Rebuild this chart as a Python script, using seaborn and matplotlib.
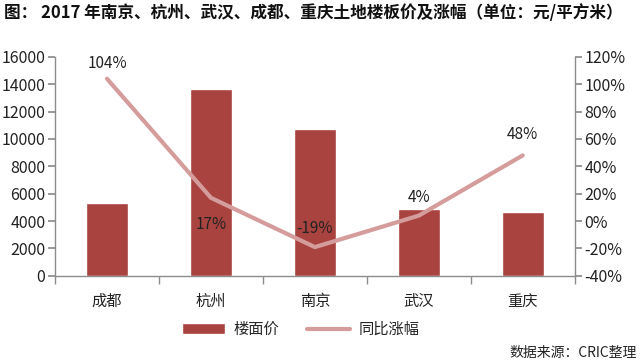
import matplotlib
matplotlib.use("Agg")
import matplotlib.pyplot as plt
import seaborn as sns
import pandas as pd
from matplotlib.ticker import FuncFormatter, FixedLocator

# data
cities = ["成都", "杭州", "南京", "武汉", "重庆"]
floor_price = [5300, 13650, 10750, 4900, 4650]
yoy_growth = [104, 17, -19, 4, 48]
growth_labels = ["104%", "17%", "-19%", "4%", "48%"]
label_offsets = [(0, 5), (0, -25), (0, 7), (0, 7), (0, 9)]

bar_color = "#A8433F"
line_color = "#D59C9C"
axis_color = "#8C8C8C"

sns.set_theme(style="white")
plt.rcParams["font.family"] = ["Noto Sans CJK SC", "DejaVu Sans"]

df = pd.DataFrame({"city": cities, "price": floor_price, "growth": yoy_growth})

fig = plt.figure(figsize=(6.4, 3.62), dpi=100)
ax = fig.add_axes([0.086, 0.238, 0.812, 0.605])

sns.barplot(data=df, x="city", y="price", color=bar_color, width=0.4,
            saturation=1, ax=ax, label="楼面价")
ax.set_ylim(0, 16000)
ax.set_yticks(range(0, 16001, 2000))
ax.set_xlabel("")
ax.set_ylabel("")

ax2 = ax.twinx()
sns.lineplot(data=df, x="city", y="growth", color=line_color, linewidth=3,
             sort=False, ax=ax2, label="同比涨幅")
ax2.set_ylim(-40, 120)
ax2.set_yticks(range(-40, 121, 20))
ax2.yaxis.set_major_formatter(FuncFormatter(lambda v, p: f"{int(v)}%"))
ax2.set_ylabel("")

for i, (val, lab) in enumerate(zip(yoy_growth, growth_labels)):
    ax2.annotate(lab, (i, val), xytext=label_offsets[i], textcoords="offset points",
                 ha="center", va="bottom", fontsize=11, color="#222222")

for a in (ax, ax2):
    a.spines["top"].set_visible(False)
    for s in ("left", "right", "bottom"):
        a.spines[s].set_color(axis_color)
        a.spines[s].set_linewidth(1)
ax.spines["right"].set_visible(False)
ax2.spines["left"].set_visible(False)
ax2.spines["bottom"].set_visible(False)

ax.tick_params(axis="y", left=True, length=5, color=axis_color, labelsize=11.5,
               labelcolor="#222222", pad=2)
ax2.tick_params(axis="y", right=True, length=5, color=axis_color, labelsize=11.5,
                labelcolor="#222222", pad=2)
ax.tick_params(axis="x", bottom=False, labelsize=11, labelcolor="#222222", pad=6)
ax.xaxis.set_minor_locator(FixedLocator([i + 0.5 for i in range(-1, len(cities))]))
ax.tick_params(axis="x", which="minor", bottom=True, length=6, color=axis_color)
ax.set_xlim(-0.5, len(cities) - 0.5)

# legend
h1, l1 = ax.get_legend_handles_labels()
h2, l2 = ax2.get_legend_handles_labels()
for a in (ax, ax2):
    if a.get_legend():
        a.get_legend().remove()
fig.legend(h1 + h2, l1 + l2, loc="center", bbox_to_anchor=(0.47, 0.09), ncol=2,
           frameon=False, fontsize=11, handlelength=2.8, columnspacing=1.8,
           handletextpad=0.6)

fig.text(0.006, 0.965, "图： 2017 年南京、杭州、武汉、成都、重庆土地楼板价及涨幅（单位：元/平方米）",
         fontsize=12, fontweight="bold", ha="left", va="center", color="#111111")
fig.text(0.995, 0.025, "数据来源：CRIC整理", fontsize=10, ha="right", va="center",
         color="#222222")

fig.savefig("out.png", dpi=100)
